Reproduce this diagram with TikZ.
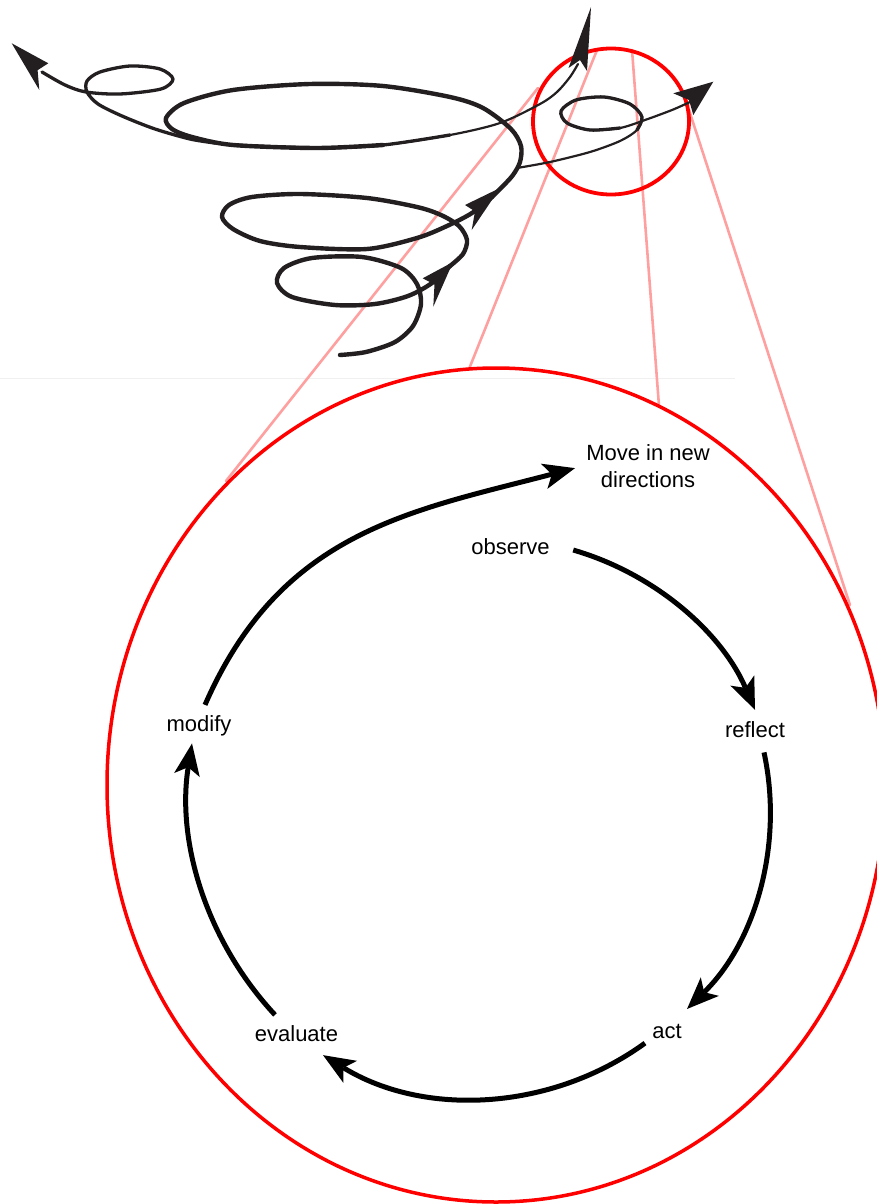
\documentclass[tikz,border=0pt]{standalone}
\usepackage{fontspec}
\setmainfont{Liberation Sans}
\usetikzlibrary{arrows.meta,calc}
\definecolor{ink}{HTML}{231F20}
\definecolor{lensred}{HTML}{FF0000}
\definecolor{zoompink}{HTML}{FFA0A0}
\begin{document}
\begin{tikzpicture}[x=1pt,y=-1pt,
  lbl/.style={font=\fontsize{22}{27}\selectfont, inner sep=0pt, anchor=base},
  cyc/.style={line width=5pt, -{Stealth[length=32pt,width=26pt,inset=8pt,line width=0pt]}},
  inkfat/.style={draw=ink, line width=4.4pt, line cap=round, line join=round},
  inkmid/.style={draw=ink, line width=3.3pt, line cap=round, line join=round},
  inkthin/.style={draw=ink, line width=2.2pt, line cap=round, line join=round},
  inkhead/.style={fill=ink},
  lens/.style={draw=lensred, line width=3.5pt},
  zoomline/.style={draw=zoompink, line width=2.6pt, line cap=round}]
\useasboundingbox (0,0) rectangle (877,1204);
\clip (0,0) rectangle (877,1204);

% faint separator
\draw[black!6, line width=1pt] (0,378) -- (735,378);

% zoom lines
\draw[zoomline] (538,88) -- (226,481);
\draw[zoomline] (597,50) -- (469,369);
\draw[zoomline] (632,50) -- (659,406);
\draw[zoomline] (689,110) -- (850,605);

% lenses
\draw[lens] (496,785) ellipse [x radius=389pt, y radius=417pt];
\draw[lens, line width=3.8pt] (611,121.5) ellipse [x radius=78pt, y radius=73pt];

% spiral: lower loop
\draw[inkfat] plot[smooth] coordinates {(340,355) (366,352) (395,342) (413,326) (421,304) (417,284) (401,268) (362,257) (312,258) (284,268) (277,283) (292,297) (335,305) (375,304) (408,296) (432,283) (450,266)};
\fill[inkhead] (453,262) -- (422.7,278.3) -- (434.5,284.5) -- (433.3,306.7) -- cycle;
% middle loop
\draw[inkfat] plot[smooth] coordinates {(450,266) (463,254) (467,240) (459,226) (441,215) (417,207) (367,198) (300,194) (252,197) (229,205) (222,217) (233,229) (260,241) (300,247) (367,249) (417,238) (447,226) (472,213) (492,197)};
\fill[inkhead] (500,188) -- (465,205) -- (475,211.4) -- (471.7,230) -- cycle;
% big loop
\draw[inkthin] plot[smooth] coordinates {(492,197) (503,186) (513,175) (520,162) (521,146) (511,129) (483,108) (450,97) (383,86) (310,84) (233,90) (184,103) (166,118) (172,129) (192,137) (233,145) (317,148) (383,145) (450,135) (500,123) (540,104) (557,92) (570,77) (578,64)};
\draw[inkmid] plot[smooth] coordinates {(233,145) (317,148) (383,145) (450,135)};
\draw[inkfat] plot[smooth] coordinates {(492,197) (503,186) (513,175) (520,162) (521,146) (511,129) (483,108) (450,97) (383,86) (310,84) (233,90) (184,103) (166,118) (172,129) (192,137) (233,145) (317,148) (383,145)};
\fill[inkhead] (591,7) -- (568.5,68) -- (580,60) -- (587,71) -- cycle;
% left branch with small loop
\draw[inkmid] plot[smooth] coordinates {(215,143) (190,139) (155,129) (122,116) (98,104) (87,92) (87,81) (100,72) (130,66) (160,69) (173,79) (161,89) (120,94) (86,92) (65,85) (42,72)};
\fill[inkhead] (11.7,43.3) -- (48.3,63.3) -- (37.6,70.2) -- (39.3,90) -- cycle;
% right branch through the lens
\draw[inkthin] plot[smooth] coordinates {(517,168) (550,162) (590,152) (620,141) (637,130) (642,117) (630,104) (604,97) (576,100) (561,111) (567,123) (590,130) (620,128) (645,120) (672,110) (690,102)};
\draw[inkmid] plot[smooth] coordinates {(637,130) (642,117) (630,104) (604,97) (576,100) (561,111) (567,123) (590,130) (620,128)};
\fill[inkhead] (713.3,81.7) -- (673.3,93.3) -- (689,100) -- (693.3,115) -- cycle;

% cycle
\node[lbl] (observe) at (510.5,554) {observe};
\node[lbl] (reflect) at (755,737) {reflect};
\node[lbl] (act) at (667,1038) {act};
\node[lbl] (evaluate) at (296.5,1041) {evaluate};
\node[lbl] (modify) at (199,731) {modify};
\node[lbl, align=center] (move) at (648,487) {Move in new\\directions};

\draw[cyc] ($(observe.east)+(23.4,3.9)$) .. controls +(81.3,23.5) and +(-33.6,-77.7) .. ($(reflect.north)+(0,-11)$);
\draw[cyc] ($(reflect.south)+(9,15)$) .. controls +(20.1,92.9) and +(67.9,-66.5) .. ($(act.north)+(20,-14.6)$);
\draw[cyc] ($(act.south)+(-22,4.7)$) .. controls +(-95,68.8) and +(99.9,61.5) .. ($(evaluate.south)+(26.5,13.7)$);
\draw[cyc] ($(evaluate.north)+(-21.5,-10)$) .. controls +(-68.1,-73.1) and +(-15.8,98.6) .. ($(modify.south)+(-7,7.7)$);
\draw[cyc] ($(modify.north)+(6,-10)$) .. controls +(76,-174) and +(-164,43) .. ($(move.west)+(-11,2.5)$);
\end{tikzpicture}
\end{document}
